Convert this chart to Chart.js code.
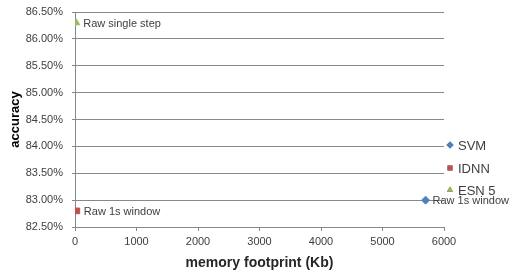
<!DOCTYPE html>
<html>
<head>
<meta charset="utf-8">
<script src="https://cdn.jsdelivr.net/npm/chart.js@4"></script>
<style>
  html, body { margin: 0; padding: 0; background: #fff; }
  #wrap { width: 522px; height: 272px; }
</style>
</head>
<body>
<div id="wrap"><canvas id="chart"></canvas></div>
<script>
// series (x = memory in Kb, y = accuracy in %)
const seriesNames = ['SVM', 'IDNN', 'ESN 5'];
const seriesColors = ['#4F81BD', '#C0504D', '#9BBB59'];
const seriesShapes = ['rectRot', 'rect', 'triangle'];
const memoryKb = [5700, 30, 20];
const accuracy = [83.0, 82.8, 86.3];
const pointLabels = ['Raw 1s window', 'Raw 1s window', 'Raw single step'];

const FONT = '"Liberation Sans", Arial, sans-serif';

const datasets = seriesNames.map((name, i) => ({
  label: name,
  data: [{ x: memoryKb[i], y: accuracy[i] }],
  backgroundColor: seriesColors[i],
  borderColor: seriesColors[i],
  pointStyle: seriesShapes[i],
  pointRadius: 4,
  pointHoverRadius: 4
}));

// labels next to each point + legend on the right
const extras = {
  id: 'extras',
  afterDatasetsDraw(chart) {
    const ctx = chart.ctx;
    ctx.save();
    ctx.font = '11px ' + FONT;
    ctx.fillStyle = '#404040';
    ctx.textBaseline = 'middle';
    ctx.textAlign = 'left';
    chart.data.datasets.forEach((ds, i) => {
      const pt = chart.getDatasetMeta(i).data[0];
      ctx.fillText(pointLabels[i], pt.x + 7, pt.y + 1);
    });

    // legend
    ctx.font = '13px ' + FONT;
    const rows = [145, 168, 190];
    seriesNames.forEach((name, i) => {
      Chart.helpers.drawPoint(ctx, {
        pointStyle: seriesShapes[i], radius: 3.5, rotation: 0, borderWidth: 0
      }, 450, rows[i]);
      ctx.fillStyle = seriesColors[i];
      ctx.fill();
      ctx.fillStyle = '#404040';
      ctx.fillText(name, 458, rows[i] + 1);
    });
    ctx.restore();
  }
};

new Chart(document.getElementById('chart'), {
  type: 'scatter',
  data: { datasets },
  plugins: [extras],
  options: {
    responsive: true,
    maintainAspectRatio: false,
    animation: false,
    layout: { padding: { top: 12, right: 78, left: 0, bottom: 0 } },
    plugins: {
      legend: { display: false },
      tooltip: { enabled: false }
    },
    scales: {
      x: {
        type: 'linear',
        min: 0,
        max: 6000,
        ticks: {
          stepSize: 1000,
          color: '#404040',
          font: { family: FONT, size: 11 },
          padding: 4,
          maxRotation: 0,
          callback: v => String(v)
        },
        grid: {
          drawOnChartArea: false,
          drawTicks: true,
          tickLength: 4,
          color: '#888'
        },
        border: { color: '#888' },
        title: {
          display: true,
          text: 'memory footprint (Kb)',
          color: '#262626',
          font: { family: FONT, size: 14, weight: 'bold' },
          padding: { top: 2, bottom: 0 }
        },
        afterFit(scale) { scale.height = 45; }
      },
      y: {
        min: 82.5,
        max: 86.5,
        ticks: {
          stepSize: 0.5,
          color: '#404040',
          font: { family: FONT, size: 11 },
          padding: 9,
          callback: v => v.toFixed(2) + '%'
        },
        grid: {
          color: '#888',
          drawTicks: true,
          tickLength: 3
        },
        border: { color: '#888' },
        title: {
          display: true,
          text: 'accuracy',
          color: '#000',
          font: { family: FONT, size: 13, weight: 'bold' },
          padding: { top: 8, bottom: 6 }
        },
        afterFit(scale) {
          scale.width = 75;
          scale.paddingTop = 6;
          scale.paddingBottom = 6;
        }
      }
    }
  }
});
</script>
</body>
</html>
